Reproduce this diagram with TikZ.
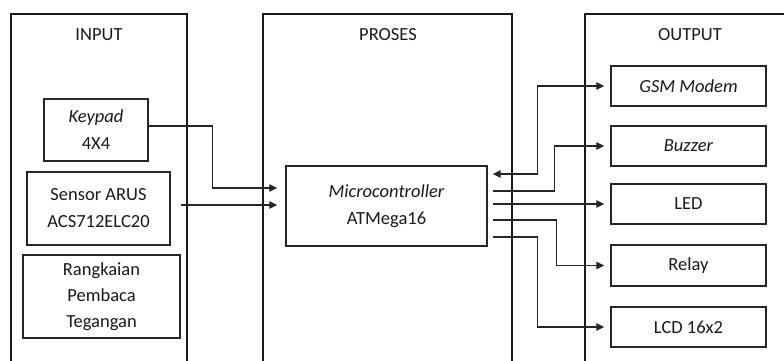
\documentclass[tikz,border=0pt]{standalone}
\usepackage{fontspec}
\setmainfont{Carlito}
\usetikzlibrary{arrows.meta}
\begin{document}
\begin{tikzpicture}[x=1pt,y=-1pt,
  font=\fontsize{18.5}{27}\selectfont,
  txt/.style={text=black!90},
  group/.style={draw=black!90,line width=2pt},
  blk/.style={draw=black!85,line width=1.4pt,align=center,text=black!90,inner sep=0pt},
  arr/.style={draw=black!85,line width=1.3pt,-{Triangle[length=8pt,width=7.5pt]}},
  darr/.style={draw=black!85,line width=1.3pt,{Triangle[length=8pt,width=7.5pt]}-{Triangle[length=8pt,width=7.5pt]}}]
\useasboundingbox (0,0) rectangle (784,361);
\clip (0,0) rectangle (784,361);
% group frames (open at the bottom)
\draw[group] (11,380) -- (11,14) -- (187,14) -- (187,380);
\draw[group] (263,380) -- (263,14) -- (512,14) -- (512,380);
\draw[group] (585,380) -- (585,14) -- (800,14);
\node[txt] (tin) at (99,35) {INPUT};
\node[txt] (tpr) at (388,35) {PROSES};
\node[txt] (tout) at (690,35) {OUTPUT};
% input blocks
\node[blk,minimum width=104pt,minimum height=62pt] (keypad) at (96,130) {\textit{Keypad}\\4X4};
\node[blk,minimum width=143pt,minimum height=73pt] (sensor) at (98.5,208.5) {Sensor ARUS\\ACS712ELC20};
\node[blk,minimum width=157pt,minimum height=83pt,font=\fontsize{18.5}{26}\selectfont] (rangk) at (101.5,296.5) {Rangkaian\\Pembaca\\Tegangan};
% process
\node[blk,minimum width=201pt,minimum height=80pt] (micro) at (386.5,206) {\textit{Microcontroller}\\ATMega16};
% outputs
\node[blk,minimum width=155pt,minimum height=40pt] (gsm) at (688.5,86) {\textit{GSM Modem}};
\node[blk,minimum width=155pt,minimum height=40pt] (buzzer) at (688.5,146) {\textit{Buzzer}};
\node[blk,minimum width=155pt,minimum height=40pt] (led) at (688.5,204) {LED};
\node[blk,minimum width=155pt,minimum height=41pt] (relay) at (688.5,265.5) {Relay};
\node[blk,minimum width=155pt,minimum height=40pt] (lcd) at (688.5,327) {LCD 16x2};
% input connectors
\draw[arr,shorten >=8pt] ([yshift=4pt]keypad.east) -| ([xshift=-73pt,yshift=18pt]micro.west) -- ([yshift=18pt]micro.west);
\draw[arr,shorten <=10pt,shorten >=8pt] ([yshift=3.5pt]sensor.east) -- ([yshift=1pt]micro.west);
% output connectors
\draw[darr,shorten <=5pt,shorten >=6pt] ([yshift=32pt]micro.east) -| ([xshift=-73pt]gsm.west) -- (gsm.west);
\draw[arr,shorten <=5pt,shorten >=6pt] ([yshift=15pt]micro.east) -| ([xshift=-56pt]buzzer.west) -- (buzzer.west);
\draw[arr,shorten <=5pt,shorten >=6pt] (micro.east |- led.west) -- (led.west);
\draw[arr,shorten <=5pt,shorten >=6pt] ([yshift=-14pt]micro.east) -| ([xshift=-54pt]relay.west) -- (relay.west);
\draw[arr,shorten <=5pt,shorten >=6pt] ([yshift=-31pt]micro.east) -| ([xshift=-73pt]lcd.west) -- (lcd.west);
\end{tikzpicture}
\end{document}
